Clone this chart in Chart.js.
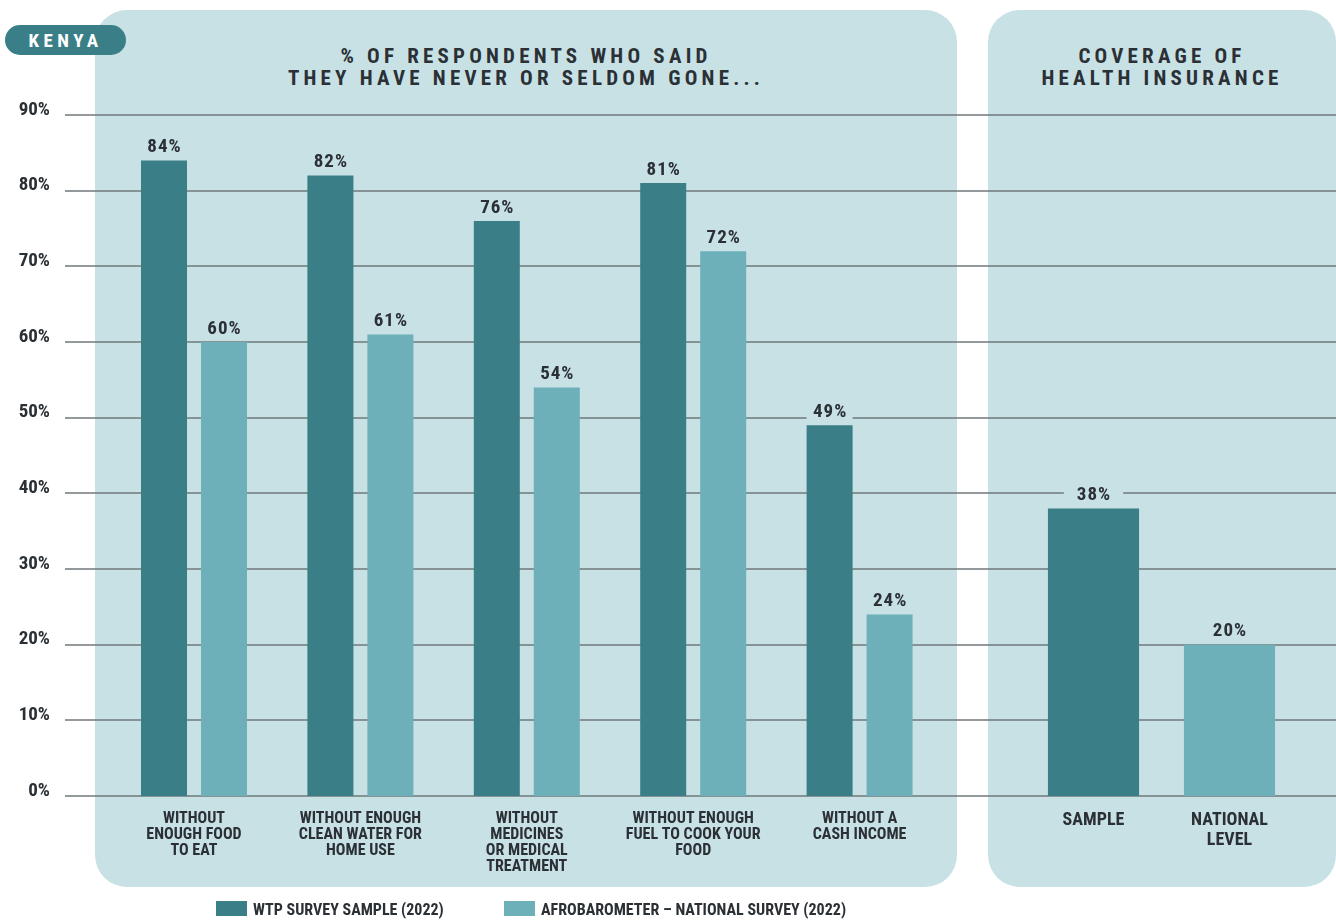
<!DOCTYPE html>
<html>
  <head>
    <meta charset="utf-8">
    <style>
      body {
        margin: 0;
        background: #ffffff;
        font-family: "Liberation Sans Narrow", "Roboto Condensed", "DejaVu Sans Condensed", Roboto, sans-serif;
        color: #2b3035;
      }
      #page {
        position: relative;
        width: 1336px;
        height: 921px;
        overflow: hidden;
      }
      .panel {
        position: absolute;
        top: 10px;
        height: 877px;
        background: #c8e1e5;
        border-radius: 32px;
      }
      .panel-title {
        position: absolute;
        top: 35px;
        left: 0;
        right: 0;
        text-align: center;
        font-size: 21px;
        font-weight: bold;
        line-height: 22px;
        letter-spacing: 4.2px;
      }
      #badge {
        position: absolute;
        left: 5px;
        top: 25px;
        width: 121px;
        height: 30px;
        border-radius: 15px;
        background: #3a7f87;
        color: #ffffff;
        font-size: 19px;
        font-weight: bold;
        letter-spacing: 4.5px;
        line-height: 31px;
        text-align: center;
      }
      canvas {
        position: absolute;
        left: 0;
        top: 0;
      }
      #legend {
        position: absolute;
        top: 900px;
        left: 216px;
        font-size: 16px;
        font-weight: bold;
        line-height: 20px;
      }
      .legend-item {
        position: absolute;
        top: 0;
        white-space: nowrap;
      }
      .swatch {
        display: inline-block;
        width: 31px;
        height: 15px;
        vertical-align: -1px;
        margin-right: 6px;
      }
    </style>
  </head>
  <body>
    <div id="page">
      <div class="panel" style="left: 95px; width: 862px;">
        <div class="panel-title">% OF RESPONDENTS WHO SAID<br>THEY HAVE NEVER OR SELDOM GONE...</div>
      </div>
      <div class="panel" style="left: 988px; width: 348px;">
        <div class="panel-title">COVERAGE OF<br>HEALTH INSURANCE</div>
      </div>
      <div id="badge">KENYA</div>

      <canvas id="needs-chart" width="1336" height="921"></canvas>
      <canvas id="insurance-chart" width="1336" height="921"></canvas>

      <div id="legend">
        <div class="legend-item" style="left: 0px;"><span class="swatch" style="background: #3a7f87"></span>WTP SURVEY SAMPLE (2022)</div>
        <div class="legend-item" style="left: 288px;"><span class="swatch" style="background: #6db0b9"></span>AFROBAROMETER – NATIONAL SURVEY (2022)</div>
      </div>
    </div>

    <script src="https://cdn.jsdelivr.net/npm/chart.js"></script>
    <script>
      // survey answers, in percent
      const needCategories = [
        ["WITHOUT", "ENOUGH FOOD", "TO EAT"],
        ["WITHOUT ENOUGH", "CLEAN WATER FOR", "HOME USE"],
        ["WITHOUT", "MEDICINES", "OR MEDICAL", "TREATMENT"],
        ["WITHOUT ENOUGH", "FUEL TO COOK YOUR", "FOOD"],
        ["WITHOUT A", "CASH INCOME"]
      ];
      const wtpSample = [84, 82, 76, 81, 49];
      const afroNational = [60, 61, 54, 72, 24];

      const coverageCategories = ["SAMPLE", ["NATIONAL", "LEVEL"]];
      const coverageValues = [38, 20];

      const yTicks = [0, 10, 20, 30, 40, 50, 60, 70, 80, 90];

      const DARK = "#3a7f87";
      const LIGHT = "#6db0b9";
      const PANEL = "#c8e1e5";
      const INK = "#2b3035";
      const FONT = '"Liberation Sans Narrow", "Roboto Condensed", "DejaVu Sans Condensed", Roboto, sans-serif';

      // both charts share the same vertical frame so the bars line up
      const PLOT_TOP = 115;
      const AXIS_HEIGHT = 125;

      // horizontal rules across the whole page, under the bars
      const fullGrid = {
        id: "fullGrid",
        beforeDatasetsDraw(chart, args, opts) {
          if (!opts.draw) return;
          const y = chart.scales.y;
          const ctx = chart.ctx;
          ctx.save();
          ctx.strokeStyle = "#71787a";
          ctx.lineWidth = 1.5;
          y.ticks.forEach(function (t) {
            const py = Math.round(y.getPixelForValue(t.value));
            ctx.beginPath();
            ctx.moveTo(opts.from, py);
            ctx.lineTo(chart.width, py);
            ctx.stroke();
          });
          ctx.restore();
        }
      };

      // percent labels above each bar, on a patch of panel colour
      const valueLabels = {
        id: "valueLabels",
        afterDatasetsDraw(chart) {
          const ctx = chart.ctx;
          ctx.save();
          ctx.font = "bold 19px " + FONT;
          ctx.letterSpacing = "1px";
          ctx.textAlign = "center";
          ctx.textBaseline = "middle";
          chart.data.datasets.forEach(function (ds, di) {
            const meta = chart.getDatasetMeta(di);
            meta.data.forEach(function (bar, i) {
              const v = ds.data[i];
              if (v === null || v === undefined) return;
              const text = v + "%";
              const w = Math.min(bar.width, ctx.measureText(text).width + 25);
              const cy = bar.y - 14;
              ctx.fillStyle = PANEL;
              ctx.fillRect(bar.x - w / 2, cy - 11, w, 22);
              ctx.fillStyle = INK;
              ctx.fillText(text, bar.x + 0.5, cy + 1);
            });
          });
          ctx.restore();
        }
      };

      function yScale(visible) {
        return {
          min: 0,
          max: 90,
          display: visible,
          afterBuildTicks: function (scale) {
            scale.ticks = yTicks.map(function (v) { return { value: v }; });
          },
          afterFit: function (scale) {
            if (visible) scale.width = 110.8;
          },
          grid: { display: false, drawTicks: false },
          border: { display: false },
          ticks: {
            padding: 60.8,
            labelOffset: -5,
            color: INK,
            font: { family: FONT, size: 19, weight: "bold" },
            callback: function (v) { return v + "%"; }
          }
        };
      }

      function xScale(size, lineHeight, padding) {
        return {
          type: "category",
          afterFit: function (scale) { scale.height = AXIS_HEIGHT; },
          grid: { display: false, drawTicks: false },
          border: { display: false },
          ticks: {
            padding: padding,
            maxRotation: 0,
            autoSkip: false,
            color: INK,
            font: { family: FONT, size: size, weight: "bold", lineHeight: lineHeight / size }
          }
        };
      }

      Chart.register(fullGrid, valueLabels);

      new Chart(document.getElementById("needs-chart"), {
        type: "bar",
        data: {
          labels: needCategories,
          datasets: [
            { label: "WTP SURVEY SAMPLE (2022)", data: wtpSample, backgroundColor: DARK },
            { label: "AFROBAROMETER – NATIONAL SURVEY (2022)", data: afroNational, backgroundColor: LIGHT }
          ]
        },
        options: {
          responsive: false,
          animation: false,
          events: [],
          categoryPercentage: 0.721,
          barPercentage: 0.767,
          layout: { padding: { top: PLOT_TOP, bottom: 0, left: 0, right: 393.2 } },
          plugins: {
            legend: { display: false },
            tooltip: { enabled: false },
            fullGrid: { draw: true, from: 65 }
          },
          scales: {
            x: xScale(16, 16, 15),
            y: yScale(true)
          }
        }
      });

      new Chart(document.getElementById("insurance-chart"), {
        type: "bar",
        data: {
          labels: coverageCategories,
          datasets: [
            { label: "HEALTH INSURANCE COVERAGE", data: coverageValues, backgroundColor: [DARK, LIGHT] }
          ]
        },
        options: {
          responsive: false,
          animation: false,
          events: [],
          categoryPercentage: 1,
          barPercentage: 0.67,
          layout: { padding: { top: PLOT_TOP, bottom: 0, left: 1025.5, right: 38.5 } },
          plugins: {
            legend: { display: false },
            tooltip: { enabled: false },
            fullGrid: { draw: false }
          },
          scales: {
            x: xScale(18, 20, 14),
            y: yScale(false)
          }
        }
      });
    </script>
  </body>
</html>
